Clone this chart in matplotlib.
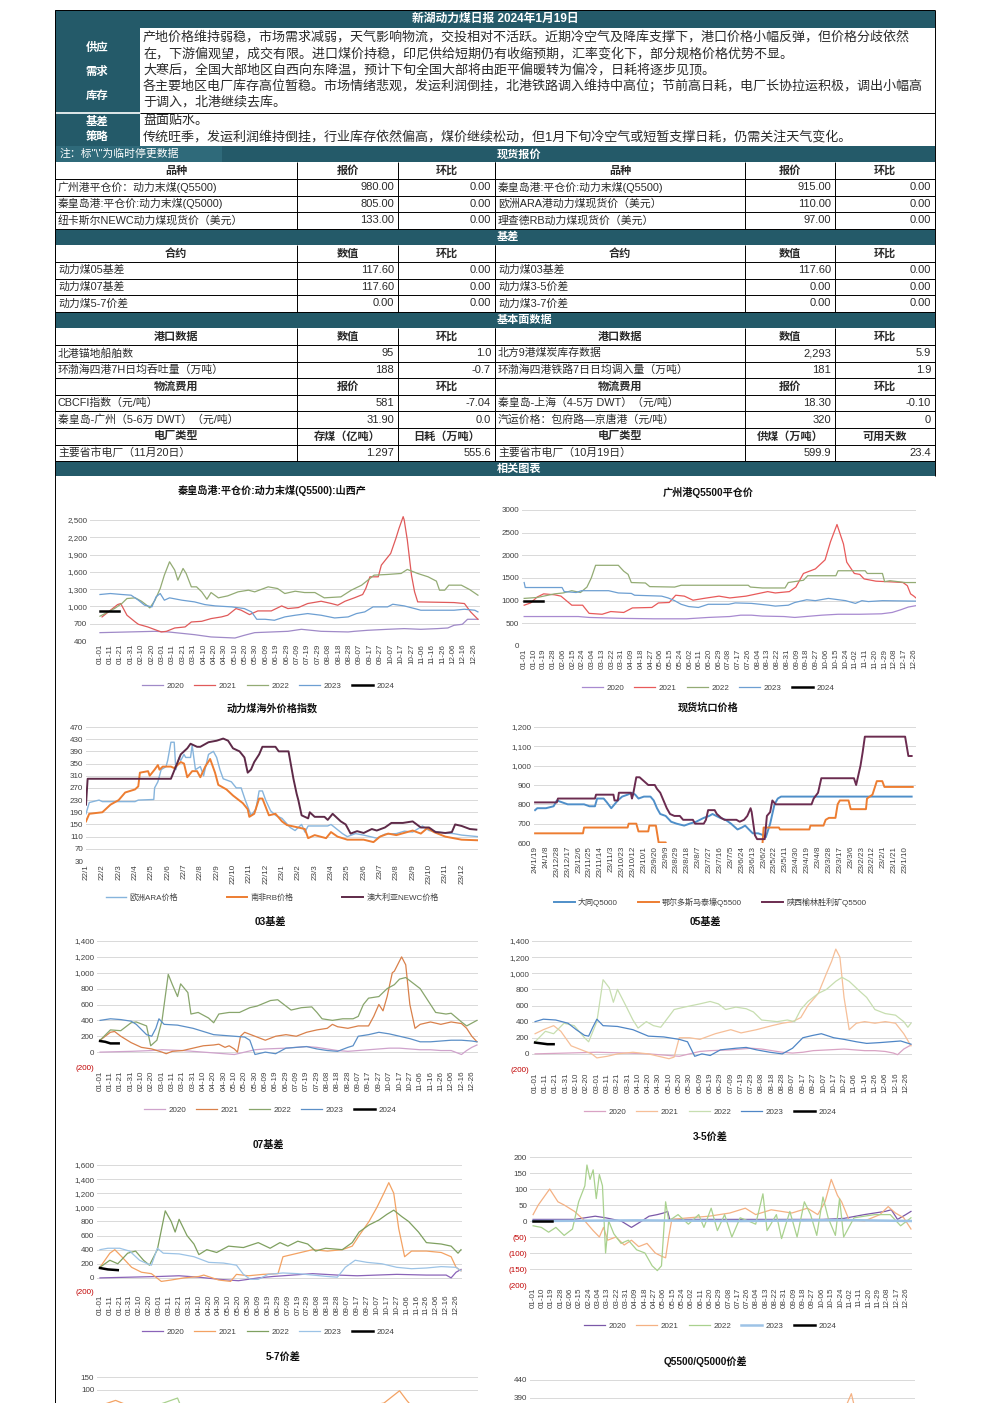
import matplotlib
matplotlib.use('Agg')
import matplotlib.pyplot as plt
import pandas as pd
from matplotlib.patches import Rectangle

plt.rcParams['font.family'] = ['Liberation Sans', 'Noto Sans CJK SC']
plt.rcParams['axes.unicode_minus'] = False

# ======================================================= #
# 文字部分
report_title = '新湖动力煤日报 2024年1月19日'
view_labels = ['供应', '需求', '库存']
view_lines = [
    '产地价格维持弱稳，市场需求减弱，天气影响物流，交投相对不活跃。近期冷空气及降库支撑下，港口价格小幅反弹，但价格分歧依然',
    '在，下游偏观望，成交有限。进口煤价持稳，印尼供给短期仍有收缩预期，汇率变化下，部分规格价格优势不显。',
    '大寒后，全国大部地区自西向东降温，预计下旬全国大部将由距平偏暖转为偏冷，日耗将逐步见顶。',
    '各主要地区电厂库存高位暂稳。市场情绪悲观，发运利润倒挂，北港铁路调入维持中高位；节前高日耗，电厂长协拉运积极，调出小幅高',
    '于调入，北港继续去库。',
]
basis_labels = ['基差', '策略']
basis_lines = [
    '盘面贴水。',
    '传统旺季，发运利润维持倒挂，行业库存依然偏高，煤价继续松动，但1月下旬冷空气或短暂支撑日耗，仍需关注天气变化。',
]
note_text = '注：标"\\"为临时停更数据'

# 现货报价
spot_head = ('品种', '报价', '环比')
spot_left = [('广州港平仓价：动力末煤(Q5500)', '980.00', '0.00'),
             ('秦皇岛港:平仓价:动力末煤(Q5000)', '805.00', '0.00'),
             ('纽卡斯尔NEWC动力煤现货价（美元）', '133.00', '0.00')]
spot_right = [('秦皇岛港:平仓价:动力末煤(Q5500)', '915.00', '0.00'),
              ('欧洲ARA港动力煤现货价（美元）', '110.00', '0.00'),
              ('理查德RB动力煤现货价（美元）', '97.00', '0.00')]
# 基差
basis_head = ('合约', '数值', '环比')
basis_left = [('动力煤05基差', '117.60', '0.00'),
              ('动力煤07基差', '117.60', '0.00'),
              ('动力煤5-7价差', '0.00', '0.00')]
basis_right = [('动力煤03基差', '117.60', '0.00'),
               ('动力煤3-5价差', '0.00', '0.00'),
               ('动力煤3-7价差', '0.00', '0.00')]
# 基本面数据
port_head = ('港口数据', '数值', '环比')
port_left = [('北港锚地船舶数', '95', '1.0'),
             ('环渤海四港7H日均吞吐量（万吨）', '188', '-0.7')]
port_right = [('北方9港煤炭库存数据', '2,293', '5.9'),
              ('环渤海四港铁路7日日均调入量（万吨）', '181', '1.9')]
freight_head = ('物流费用', '报价', '环比')
freight_left = [('CBCFI指数（元/吨）', '581', '-7.04'),
                ('秦皇岛-广州（5-6万 DWT）（元/吨）', '31.90', '0.0')]
freight_right = [('秦皇岛-上海（4-5万 DWT）（元/吨）', '18.30', '-0.10'),
                 ('汽运价格：包府路—京唐港（元/吨）', '320', '0')]
plant_head_left = ('电厂类型', '存煤（亿吨）', '日耗（万吨）')
plant_head_right = ('电厂类型', '供煤（万吨）', '可用天数')
plant_left = [('主要省市电厂（11月20日）', '1.297', '555.6')]
plant_right = [('主要省市电厂（10月19日）', '599.9', '23.4')]

# ======================================================= #
# 图表数据 (天数, 数值) / (月份, 数值)
qhd_2020 = [(0, 545), (53, 568), (66, 557), (91, 510), (107, 470), (130, 452), (139, 499), (149, 545),
            (181, 568), (194, 603), (213, 568), (239, 557), (245, 568), (258, 586), (277, 603), (293, 615),
            (309, 603), (325, 615), (335, 626), (341, 673), (349, 690), (354, 777), (364, 777)]
qhd_2021 = [(2, 818), (17, 1032), (20, 1050), (26, 847), (34, 730), (37, 690), (46, 644), (53, 597),
            (59, 557), (64, 568), (72, 626), (82, 644), (88, 730), (98, 742), (107, 789), (117, 818),
            (123, 847), (131, 963), (136, 934), (144, 858), (152, 922), (165, 922), (175, 1009), (181, 963),
            (191, 980), (200, 1050), (213, 1090), (223, 1050), (229, 1021), (236, 1090), (245, 1149),
            (253, 1207), (256, 1311), (260, 1514), (268, 1514), (271, 1717), (280, 1920), (285, 2181),
            (288, 2355), (292, 2558), (293, 2500), (296, 2152), (300, 1543), (303, 1253), (306, 1079),
            (341, 1067), (351, 1050), (357, 905), (364, 777)]
qhd_2022 = [(0, 830), (14, 963), (21, 1050), (26, 1137), (34, 1149), (40, 1090), (45, 1021), (48, 974),
            (53, 1108), (58, 1311), (62, 1543), (67, 1775), (72, 1630), (75, 1456), (80, 1659), (83, 1572),
            (88, 1340), (93, 1340), (98, 1253), (103, 1125), (107, 1241), (114, 1149), (123, 1183),
            (133, 1253), (143, 1282), (149, 1253), (162, 1340), (171, 1311), (178, 1224), (188, 1264),
            (197, 1241), (207, 1241), (216, 1149), (232, 1166), (242, 1282), (252, 1369), (260, 1485),
            (264, 1543), (277, 1555), (290, 1572), (296, 1642), (306, 1572), (316, 1514), (324, 1439),
            (327, 1282), (332, 1282), (336, 1369), (348, 1369), (356, 1293), (364, 1195)]
qhd_2023 = [(0, 1207), (10, 1224), (21, 1207), (30, 1195), (37, 1108), (43, 1021), (50, 992), (54, 1166),
            (58, 1224), (62, 1108), (67, 1149), (79, 1108), (91, 1079), (101, 1032), (111, 1009), (127, 992),
            (139, 963), (146, 905), (151, 777), (159, 777), (168, 760), (178, 818), (188, 847), (200, 876),
            (213, 847), (226, 800), (239, 818), (247, 876), (255, 905), (263, 992), (277, 992), (282, 1038),
            (293, 1009), (303, 963), (309, 934), (325, 934), (341, 934), (351, 951), (361, 934), (364, 905)]
qhd_2024 = [(0, 916), (18, 916)]

gz_2020 = [(0, 650), (50, 650), (60, 630), (90, 610), (120, 600), (150, 600), (170, 630), (190, 650),
           (200, 680), (210, 680), (220, 660), (240, 650), (250, 630), (260, 650), (275, 680), (290, 700),
           (310, 700), (330, 710), (340, 740), (348, 800), (355, 860), (362, 890)]
gz_2021 = [(0, 900), (6, 950), (12, 1080), (18, 1150), (28, 1130), (34, 1100), (40, 980), (44, 900),
           (54, 900), (60, 720), (72, 700), (80, 760), (92, 740), (100, 840), (118, 850), (124, 950),
           (134, 960), (140, 1120), (148, 1100), (156, 1010), (166, 1050), (180, 1100), (190, 1060),
           (205, 1100), (215, 1150), (225, 1200), (232, 1170), (245, 1200), (251, 1300), (258, 1600),
           (269, 1700), (278, 1900), (283, 2300), (289, 2680), (295, 2250), (298, 1850), (305, 1600),
           (310, 1580), (314, 1480), (325, 1430), (343, 1410), (350, 1400), (354, 1330), (357, 1150),
           (360, 1100), (362, 1060)]
gz_2022 = [(0, 1050), (12, 1070), (28, 1150), (36, 1170), (44, 1220), (52, 1180), (58, 1300), (62, 1500),
           (66, 1780), (87, 1780), (92, 1650), (96, 1580), (99, 1400), (112, 1390), (116, 1310), (139, 1300),
           (145, 1340), (207, 1340), (209, 1300), (220, 1280), (241, 1280), (244, 1400), (258, 1450),
           (262, 1550), (288, 1550), (290, 1660), (315, 1660), (317, 1600), (331, 1600), (333, 1420),
           (338, 1440), (352, 1400), (362, 1400)]
gz_2023 = [(0, 1400), (1, 1290), (35, 1290), (37, 1200), (48, 1180), (53, 1220), (78, 1220), (87, 1170),
           (99, 1160), (102, 1120), (127, 1100), (133, 1060), (139, 1000), (145, 920), (152, 870), (161, 850),
           (170, 920), (189, 920), (195, 950), (210, 940), (226, 900), (232, 880), (244, 900), (250, 960),
           (261, 1020), (269, 1000), (281, 1050), (297, 1000), (306, 940), (312, 1000), (318, 980),
           (331, 1000), (362, 990)]
gz_2024 = [(0, 990), (17, 990)]

ovs_ara = [(0, 185), (0.2, 222), (0.8, 230), (1.0, 225), (3.0, 225), (3.2, 230), (4.15, 232), (4.2, 270),
           (4.4, 290), (4.6, 330), (4.9, 340), (5.0, 360), (5.2, 420), (5.4, 420), (5.5, 330), (5.7, 370),
           (5.8, 360), (6.0, 380), (6.1, 370), (6.4, 370), (6.5, 410), (6.7, 330), (7.0, 340), (7.2, 310),
           (7.5, 380), (7.8, 390), (8.0, 370), (8.2, 330), (8.4, 300), (8.9, 290), (9.2, 270), (9.5, 270),
           (9.75, 230), (10.0, 195), (10.1, 180), (10.4, 200), (10.6, 260), (10.8, 260), (11.0, 230),
           (11.3, 195), (11.6, 180), (12.0, 170), (12.5, 140), (12.8, 130), (13.2, 150), (13.4, 125),
           (13.6, 145), (14.8, 145), (15.0, 150), (15.7, 120), (16.0, 110), (16.5, 120), (17.0, 115),
           (17.8, 105), (18.3, 118), (19.0, 120), (19.5, 128), (20.0, 125), (20.6, 145), (21.0, 130),
           (22.0, 122), (22.5, 120), (23.0, 115), (24.0, 110)]
ovs_rb = [(0, 160), (0.2, 185), (1.0, 190), (1.5, 215), (2.0, 230), (2.4, 255), (3.0, 265), (3.2, 275),
          (3.3, 320), (3.8, 325), (3.9, 310), (4.2, 330), (4.4, 345), (4.5, 330), (4.7, 340), (5.2, 340),
          (5.4, 335), (5.8, 355), (6.0, 350), (6.2, 305), (6.5, 325), (6.8, 325), (7.0, 305), (7.3, 340),
          (7.6, 365), (7.9, 320), (8.1, 280), (8.6, 265), (9.0, 245), (9.6, 220), (9.9, 200), (10.0, 175),
          (10.3, 185), (10.6, 235), (10.8, 235), (11.2, 180), (11.6, 185), (12.0, 160), (12.3, 148),
          (13.0, 140), (13.4, 135), (13.6, 105), (14.0, 115), (14.7, 105), (15.0, 125), (15.4, 110),
          (16.0, 100), (17.0, 100), (17.6, 92), (18.0, 110), (18.5, 120), (19.0, 115), (20.0, 130),
          (20.5, 120), (20.9, 138), (21.3, 125), (22.0, 110), (23.0, 100), (24.0, 98)]
ovs_newc = [(0, 215), (0.1, 300), (5.2, 300), (5.5, 340), (5.8, 380), (6.2, 400), (6.4, 415), (6.8, 405),
            (7.0, 405), (7.5, 420), (8.0, 425), (8.4, 432), (8.7, 425), (9.0, 400), (9.4, 390), (9.7, 370),
            (9.9, 320), (10.1, 330), (10.3, 355), (10.6, 380), (10.8, 405), (11.6, 405), (11.8, 390),
            (12.4, 390), (12.7, 300), (12.9, 250), (13.0, 230), (13.2, 180), (13.6, 170), (13.7, 190),
            (14.0, 175), (14.6, 175), (14.8, 165), (15.1, 185), (15.6, 160), (15.9, 150), (16.2, 120),
            (16.6, 128), (17.0, 122), (17.5, 135), (17.8, 130), (18.3, 140), (18.7, 155), (19.4, 155),
            (20.0, 160), (20.5, 140), (21.0, 140), (21.4, 125), (22.0, 122), (22.4, 125), (22.6, 150),
            (23.0, 145), (23.5, 135), (23.9, 133)]

pit_labels = ['24/1/19', '24/1/8', '23/12/28', '23/12/17', '23/12/6', '23/11/25', '23/11/14', '23/11/3',
              '23/10/23', '23/10/12', '23/10/1', '23/9/20', '23/9/9', '23/8/29', '23/8/18', '23/8/7',
              '23/7/27', '23/7/16', '23/7/5', '23/6/24', '23/6/13', '23/6/2', '23/5/22', '23/5/11',
              '23/4/30', '23/4/19', '23/4/8', '23/3/28', '23/3/17', '23/3/6', '23/2/23', '23/2/12',
              '23/2/1', '23/1/21', '23/1/10']
pit_datong = [(0, 770), (0.2, 780), (1.0, 780), (1.7, 790), (2.0, 820), (2.5, 810), (3.0, 800), (4.5, 800),
              (5.0, 790), (5.5, 790), (5.7, 830), (6.3, 830), (6.6, 810), (7.0, 780), (7.3, 800), (7.6, 820),
              (8.0, 840), (8.5, 850), (8.9, 860), (9.2, 850), (9.5, 830), (10.0, 840), (10.6, 840),
              (10.9, 820), (11.2, 780), (11.5, 750), (12.0, 740), (12.5, 710), (13.0, 700), (13.7, 690),
              (14.2, 700), (14.8, 710), (15.5, 730), (16.0, 740), (16.3, 750), (17.0, 730), (17.5, 720),
              (18.0, 700), (18.6, 670), (19.0, 680), (19.3, 690), (20.0, 650), (20.5, 650), (21.0, 640),
              (21.2, 630), (21.6, 700), (22.0, 800), (22.3, 830), (22.6, 840), (34.6, 840)]
pit_ordos = [(0, 650), (4.4, 650), (4.5, 680), (8.5, 680), (8.6, 700), (9.3, 700), (9.5, 660), (10.4, 660),
             (10.5, 690), (11.1, 690), (11.35, 603), (12.0, 603), (12.1, 560), (20.8, 560), (20.9, 600),
             (21.0, 680), (22.4, 680), (22.5, 670), (25.2, 670), (25.3, 690), (26.5, 690), (26.7, 720),
             (27.0, 730), (27.6, 730), (27.8, 800), (28.0, 820), (28.8, 820), (29.0, 775), (30.4, 775),
             (30.5, 830), (31.0, 850), (31.4, 920), (31.9, 920), (32.1, 890), (34.7, 890)]
pit_yulin = [(0, 810), (2.0, 810), (2.1, 830), (5.5, 830), (5.6, 850), (7.2, 850), (7.3, 820), (7.6, 820),
             (7.7, 860), (8.8, 860), (8.9, 830), (9.0, 850), (9.3, 940), (9.6, 940), (10.0, 920), (10.4, 900),
             (11.0, 900), (11.2, 880), (11.5, 860), (11.8, 820), (12.1, 780), (12.4, 750), (12.8, 740),
             (13.3, 740), (13.6, 720), (14.5, 720), (14.7, 700), (15.5, 700), (15.7, 720), (15.9, 770),
             (16.5, 770), (16.7, 750), (17.1, 730), (17.4, 720), (18.5, 720), (18.8, 710), (19.2, 720),
             (19.5, 740), (19.8, 780), (19.9, 760), (20.2, 640), (20.4, 620), (21.1, 620), (21.3, 740),
             (21.6, 760), (21.8, 820), (22.1, 800), (25.4, 800), (25.6, 830), (26.0, 860), (26.3, 935),
             (29.3, 935), (29.5, 900), (29.9, 1000), (30.1, 1070), (30.3, 1150), (34.0, 1150), (34.3, 1050),
             (34.6, 1050)]

b03_2020 = [(0, 0), (30, 10), (50, 20), (60, 30), (80, 20), (100, 0), (120, -20), (130, -30), (140, 0),
            (150, 30), (160, 40), (180, 50), (190, 60), (200, 70), (210, 60), (220, 40), (230, 20), (240, 10),
            (250, 20), (260, 30), (270, 40), (280, 50), (290, 50), (300, 40), (310, 30), (320, 30), (330, 20),
            (340, 20), (350, -30), (355, 20), (360, 60), (365, 90)]
b03_2021 = [(0, 150), (10, 250), (14, 260), (20, 200), (30, 120), (40, 60), (50, 40), (60, 0), (64, -20),
            (70, 10), (80, 20), (90, 50), (100, 80), (110, 90), (115, 100), (121, 60), (125, 80), (130, 40),
            (133, 0), (136, 200), (140, 250), (150, 200), (160, 150), (170, 200), (180, 220), (190, 200),
            (200, 250), (210, 280), (220, 300), (225, 350), (230, 320), (240, 300), (250, 330), (260, 330),
            (265, 450), (270, 600), (274, 520), (278, 700), (283, 1000), (285, 1020), (292, 1200),
            (296, 1100), (300, 600), (305, 300), (310, 350), (320, 380), (330, 350), (340, 380), (350, 360),
            (355, 300), (360, 200), (365, 130)]
b03_2022 = [(0, 150), (10, 280), (20, 270), (30, 370), (35, 380), (45, 330), (49, 80), (55, 150), (60, 400),
            (66, 980), (70, 850), (75, 700), (78, 860), (85, 750), (88, 480), (95, 500), (105, 430), (110, 370),
            (115, 480), (125, 500), (135, 500), (145, 560), (152, 580), (165, 650), (172, 660), (178, 600),
            (185, 530), (195, 560), (205, 570), (210, 500), (215, 420), (225, 400), (235, 420), (245, 420),
            (250, 450), (255, 600), (260, 680), (270, 700), (278, 800), (285, 850), (290, 920), (296, 940),
            (305, 850), (310, 800), (315, 700), (320, 600), (325, 500), (335, 480), (340, 490), (350, 380),
            (355, 330), (365, 400)]
b03_2023 = [(0, 400), (10, 420), (20, 410), (30, 390), (35, 350), (45, 220), (50, 200), (54, 300), (57, 420),
            (62, 350), (75, 340), (90, 300), (100, 260), (110, 220), (120, 210), (130, 200), (140, 190),
            (145, 150), (150, -30), (160, 0), (170, -20), (180, 50), (190, 60), (200, 70), (210, 40),
            (220, 20), (230, 10), (240, 60), (245, 80), (250, 200), (260, 220), (270, 250), (280, 230),
            (290, 200), (300, 170), (310, 130), (320, 130), (330, 140), (340, 150), (350, 150), (360, 140),
            (365, 130)]
b03_2024 = [(0, 140), (5, 130), (10, 110), (18, 110)]

b05_2020 = [(0, 0), (30, 10), (60, 20), (90, 10), (110, 0), (130, -20), (140, -30), (150, 0), (160, 30),
            (170, 40), (190, 50), (200, 60), (210, 70), (220, 60), (230, 40), (240, 20), (250, 10), (260, 20),
            (270, 40), (285, 50), (300, 60), (310, 50), (320, 40), (330, 40), (340, 30), (348, 10),
            (352, -10), (358, 60), (365, 110)]
b05_2021 = [(0, 250), (8, 300), (18, 350), (25, 280), (35, 100), (45, 50), (55, 0), (60, -50), (70, -30),
            (80, 0), (95, 20), (110, 0), (120, -30), (130, -60), (135, -40), (140, 200), (150, 200), (160, 180),
            (175, 250), (190, 300), (200, 260), (215, 300), (230, 350), (240, 380), (250, 400), (258, 450),
            (265, 600), (275, 750), (283, 1000), (288, 1150), (292, 1300), (296, 1200), (300, 700),
            (305, 300), (312, 380), (320, 400), (330, 380), (340, 400), (350, 380), (358, 250), (365, 100)]
b05_2022 = [(0, 150), (10, 280), (18, 250), (28, 380), (38, 350), (48, 200), (52, 150), (60, 400),
            (66, 920), (72, 820), (76, 640), (80, 800), (88, 600), (95, 420), (100, 320), (108, 400),
            (115, 350), (122, 330), (135, 550), (145, 580), (160, 620), (170, 650), (178, 620), (185, 550),
            (195, 580), (205, 560), (212, 520), (220, 420), (235, 400), (245, 420), (252, 400), (258, 550),
            (265, 650), (275, 750), (283, 800), (292, 900), (298, 950), (305, 900), (315, 780), (322, 700),
            (330, 550), (340, 500), (350, 480), (358, 400), (362, 330), (365, 380)]
b05_2023 = [(0, 400), (8, 430), (20, 420), (32, 380), (40, 300), (48, 230), (52, 220), (56, 330), (60, 430),
            (66, 350), (80, 340), (95, 300), (110, 220), (125, 210), (140, 180), (148, 150), (155, -30),
            (162, 0), (170, -20), (180, 50), (195, 70), (205, 80), (215, 50), (228, 20), (240, 0), (250, 70),
            (260, 200), (270, 230), (278, 250), (290, 200), (300, 180), (312, 150), (322, 130), (335, 140),
            (345, 150), (355, 160), (365, 120)]
b05_2024 = [(0, 140), (6, 130), (12, 120), (18, 120)]

b07_2020 = [(0, 0), (30, 10), (60, 20), (80, 30), (100, 10), (120, -20), (140, -40), (160, 0), (175, 20),
            (195, 40), (215, 60), (240, 40), (260, 30), (280, 40), (300, 50), (330, 40), (350, 40), (355, 0),
            (360, 80), (365, 120)]
b07_2021 = [(0, 150), (10, 350), (15, 400), (22, 300), (32, 150), (42, 80), (52, 60), (62, -50), (72, -30),
            (85, 0), (100, 20), (105, 40), (120, -30), (132, -50), (138, 50), (150, 30), (165, 50), (180, 60),
            (185, 300), (200, 350), (215, 400), (230, 380), (245, 400), (255, 450), (262, 600), (272, 800),
            (280, 1000), (287, 1200), (292, 1350), (297, 1200), (302, 700), (308, 300), (315, 380),
            (330, 380), (345, 360), (355, 300), (360, 150), (365, 100)]
b07_2022 = [(0, 150), (10, 250), (18, 200), (28, 350), (36, 380), (44, 250), (50, 180), (58, 400),
            (66, 950), (72, 800), (76, 650), (80, 830), (88, 600), (95, 480), (100, 330), (108, 400),
            (118, 360), (130, 450), (145, 430), (160, 500), (172, 420), (182, 500), (190, 450), (200, 520),
            (210, 480), (218, 380), (228, 420), (245, 400), (255, 500), (262, 650), (272, 750), (282, 820),
            (290, 900), (297, 960), (305, 870), (312, 800), (322, 650), (330, 500), (345, 480), (355, 450),
            (362, 350), (365, 400)]
b07_2023 = [(0, 400), (8, 420), (20, 420), (30, 380), (40, 250), (48, 200), (52, 180), (58, 420), (64, 350),
            (80, 340), (95, 300), (110, 220), (125, 210), (138, 180), (145, 50), (152, -20), (160, -20),
            (170, 50), (185, 70), (200, 60), (215, 40), (230, 20), (240, 10), (248, 150), (258, 250),
            (270, 220), (285, 200), (300, 150), (315, 130), (330, 140), (345, 160), (360, 150), (365, 100)]
b07_2024 = [(0, 140), (8, 120), (18, 110)]

s35_2020 = [(0, 5), (40, 5), (60, 15), (70, 10), (85, 0), (95, -20), (105, 0), (112, 15), (120, 20),
            (126, 25), (130, 30), (132, 5), (200, 5), (280, 5), (300, 8), (320, 20), (340, 30), (346, 35),
            (352, 5), (360, 20), (365, 30)]
s35_2021 = [(0, 20), (5, 50), (16, 100), (24, 60), (30, 50), (40, 30), (50, 0), (58, -30), (64, -50),
            (68, -20), (72, -60), (80, -50), (88, -75), (95, -60), (102, -80), (110, -70), (118, -100),
            (124, -110), (128, -115), (131, -50), (134, 5), (150, 10), (170, 15), (190, 25), (205, 40),
            (215, 20), (230, 35), (250, 25), (265, 40), (275, 20), (282, 60), (288, 130), (294, 80),
            (298, 60), (305, 5), (320, 0), (335, 20), (343, 45), (350, 25), (358, 10), (365, -25)]
s35_2022 = [(0, -15), (8, -20), (15, -35), (22, -20), (30, -45), (38, -25), (44, 60), (50, 110), (52, 175),
            (55, 130), (58, 160), (61, 70), (64, 145), (67, 110), (70, -100), (73, 0), (78, -40), (85, -70),
            (92, -60), (100, -90), (108, -100), (115, -140), (120, -155), (124, -140), (128, 60), (131, 0),
            (140, 20), (150, -10), (160, 20), (165, -20), (172, 40), (178, -30), (185, 20), (192, -50),
            (200, 10), (208, 0), (215, -10), (222, 85), (226, -30), (235, 20), (240, -55), (248, 30),
            (255, -50), (262, 60), (268, 20), (274, -45), (280, 75), (285, 10), (292, -45), (296, 70),
            (300, -50), (310, 10), (330, 20), (345, 20), (355, -15), (365, 10)]
s35_2023 = [(0, 0), (100, 2), (200, 0), (300, 3), (365, 0)]
s35_2024 = [(0, 0), (18, 0)]

s57_2020 = [(0, 0), (60, 5), (100, -10), (140, 0), (200, 10), (280, 5), (340, 10), (365, 0)]
s57_2021 = [(0, 40), (15, 60), (40, 20), (70, -20), (110, -40), (140, 20), (200, 20), (250, 30), (275, 50),
            (290, 97), (297, 60), (310, 0), (340, 10), (365, -10)]
s57_2022 = [(0, -10), (40, 20), (75, 69), (80, 20), (90, -40), (120, -60), (140, 20), (200, 0), (260, 40),
            (300, 0), (340, 20), (365, 10)]
s57_2023 = [(0, 0), (365, 0)]

q55_2021 = [(0, 200), (60, 220), (120, 180), (200, 230), (260, 250), (290, 300), (305, 402), (315, 280),
            (365, 220)]
q55_2022 = [(0, 150), (80, 200), (160, 170), (240, 190), (320, 160), (365, 150)]
q55_2023 = [(0, 120), (100, 140), (200, 120), (300, 130), (365, 120)]

season_ticks10 = list(range(0, 361, 10))
season_labels10 = list(pd.date_range('2020-01-01', periods=37, freq='10D').strftime('%m-%d'))
season_ticks9 = list(range(0, 361, 9))
season_labels9 = list(pd.date_range('2020-01-01', periods=41, freq='9D').strftime('%m-%d'))
month_labels = [f'{y}/{m}' for y in (22, 23) for m in range(1, 13)]

# ======================================================= #
W, H = 992, 1403
fig = plt.figure(figsize=(W / 100, H / 100), dpi=100)
bg = fig.add_axes([0, 0, 1, 1])
bg.set_xlim(0, W)
bg.set_ylim(H, 0)
bg.axis('off')

TEAL = '#245a69'
INK = '#2a2a2a'


def box(y0, y1, x0=55, x1=935, color=TEAL):
    bg.add_patch(Rectangle((x0, y0), x1 - x0, y1 - y0, color=color, lw=0))


def txt(x, y, s, ha='left', color=INK, size=7.8, weight='normal'):
    bg.text(x, y, s, ha=ha, va='center', color=color, fontsize=size, fontweight=weight)


def hline(y, x0, x1, color='black', lw=0.7):
    bg.plot([x0, x1], [y, y], color=color, lw=lw, solid_capstyle='butt')


def vline(x, y0, y1, color='black', lw=0.7):
    bg.plot([x, x], [y0, y1], color=color, lw=lw, solid_capstyle='butt')


# 标题和观点
box(10, 28)
txt(495, 19, report_title, ha='center', color='white', size=8.5, weight='bold')
box(28, 146, 55, 140)
hline(112.5, 55, 140, color='white', lw=1.2)
hline(112.5, 140, 935)
for s, y in zip(view_labels, [47, 71, 96]):
    txt(97, y, s, ha='center', color='white', size=8.2, weight='bold')
for s, y in zip(basis_labels, [121, 137]):
    txt(97, y, s, ha='center', color='white', size=8.2, weight='bold')
for i, line in enumerate(view_lines):
    txt(143, 37.5 + i * 16.3, line, size=9.4)
for i, line in enumerate(basis_lines):
    txt(143, 121 + i * 16, line, size=9.4)

# 表格
L_COLS = (55, 297, 398, 495)
R_COLS = (495, 745, 835, 935)
ROW_H = 16.6


def table_row(y0, left, right, head=False):
    y1 = y0 + ROW_H
    ym = (y0 + y1) / 2
    for cols, cells in ((L_COLS, left), (R_COLS, right)):
        for j, s in enumerate(cells):
            a, b = cols[j], cols[j + 1]
            if head:
                txt((a + b) / 2, ym, s, ha='center', weight='bold', size=8)
            elif j == 0:
                txt(a + 3, ym, s, size=7.8)
            else:
                txt(b - 4, ym, s, ha='right', size=8)
    hline(y1, 55, 935)
    for x in L_COLS + R_COLS:
        vline(x, y0, y1)
    return y1


def section_bar(y0, y1, title):
    box(y0, y1)
    txt(497, (y0 + y1) / 2, title, color='white', weight='bold', size=8)


box(146, 162.3)
box(146, 162.3, 55, 222, color='#2f6a7a')
txt(60, 154, note_text, color='white', size=7.8)
txt(497, 154, '现货报价', color='white', weight='bold', size=8)

y = table_row(162.3, spot_head, spot_head, head=True)
for l, r in zip(spot_left, spot_right):
    y = table_row(y, l, r)
section_bar(y, y + ROW_H, '基差')
y = table_row(y + ROW_H, basis_head, basis_head, head=True)
for l, r in zip(basis_left, basis_right):
    y = table_row(y, l, r)
section_bar(y, y + ROW_H, '基本面数据')
y = table_row(y + ROW_H, port_head, port_head, head=True)
for l, r in zip(port_left, port_right):
    y = table_row(y, l, r)
y = table_row(y, freight_head, freight_head, head=True)
for l, r in zip(freight_left, freight_right):
    y = table_row(y, l, r)
y = table_row(y, plant_head_left, plant_head_right, head=True)
for l, r in zip(plant_left, plant_right):
    y = table_row(y, l, r)
section_bar(y, 475.5, '相关图表')
vline(55, 10, H)
vline(935, 10, 475.5)
hline(10, 55, 935)

# ======================================================= #
# 图表


def chart(x0, x1, v_lo, y_lo, v_hi, y_hi, ylim, xlim):
    ppu = (y_lo - y_hi) / (v_hi - v_lo)
    top = y_lo - (ylim[1] - v_lo) * ppu
    bot = y_lo + (v_lo - ylim[0]) * ppu
    ax = fig.add_axes([x0 / W, 1 - bot / H, (x1 - x0) / W, (bot - top) / H])
    ax.set_xlim(*xlim)
    ax.set_ylim(*ylim)
    ax.patch.set_alpha(0)
    for s in ax.spines.values():
        s.set_visible(False)
    ax.grid(axis='y', color='#d9d9d9', lw=0.7)
    ax.set_axisbelow(True)
    ax.tick_params(length=0, labelsize=5.8, colors='#404040', pad=2)
    return ax


def yaxis(ax, ticks, comma=True):
    labels = []
    for v in ticks:
        if v < 0:
            labels.append(f'({-v:,.0f})')
        elif comma:
            labels.append(f'{v:,.0f}')
        else:
            labels.append(f'{v:.0f}')
    ax.set_yticks(ticks, labels)
    for lab, v in zip(ax.get_yticklabels(), ticks):
        if v < 0:
            lab.set_color('#c00000')


def xaxis(ax, ticks, labels):
    ax.set_xticks(ticks, labels, rotation=90)


def draw(ax, pts, color, label=None, lw=0.9):
    xs = [p[0] for p in pts]
    ys = [p[1] for p in pts]
    ax.plot(xs, ys, color=color, lw=lw, label=label)


def title(cx, cy, s):
    fig.text(cx / W, 1 - cy / H, s, ha='center', va='center', fontsize=7.3, fontweight='bold', color='#111111')


def legend(ax, cx, cy, ncol=5, spacing=1.3):
    ax.legend(loc='center', bbox_to_anchor=(cx / W, 1 - cy / H), bbox_transform=fig.transFigure,
              ncol=ncol, frameon=False, fontsize=5.8, handlelength=2.6, columnspacing=spacing,
              handletextpad=0.4, labelcolor='#404040')


years = ['2020', '2021', '2022', '2023', '2024']

# 秦皇岛港
ax = chart(90, 480, 400, 641, 2500, 520, (400, 2620), (-9.6, 366))
for pts, c, lab in zip([qhd_2020, qhd_2021, qhd_2022, qhd_2023], ['#a08ac8', '#e05a5a', '#93ab74', '#6d9fd2'], years):
    draw(ax, pts, c, lab)
draw(ax, qhd_2024, 'black', '2024', lw=1.8)
yaxis(ax, list(range(400, 2501, 300)))
xaxis(ax, season_ticks10, season_labels10)
title(272, 490, '秦皇岛港:平仓价:动力末煤(Q5500):山西产')
legend(ax, 268, 686)

# 广州港
ax = chart(522, 916, 0, 646, 3000, 510, (0, 3000), (-2, 362))
for pts, c, lab in zip([gz_2020, gz_2021, gz_2022, gz_2023], ['#a88ad0', '#e85a5a', '#93ab74', '#6d9fd2'], years):
    draw(ax, pts, c, lab)
draw(ax, gz_2024, 'black', '2024', lw=1.8)
yaxis(ax, list(range(0, 3001, 500)), comma=False)
xaxis(ax, season_ticks9, season_labels9)
title(708, 492, '广州港Q5500平仓价')
legend(ax, 708, 688)

# 海外价格指数
ax = chart(86, 478, 30, 861, 470, 727, (30, 470), (0, 24))
draw(ax, ovs_ara, '#86b4dc', '欧洲ARA价格', lw=1.0)
draw(ax, ovs_rb, '#ed7d31', '南非RB价格', lw=1.4)
draw(ax, ovs_newc, '#5e2a48', '澳大利亚NEWC价格', lw=1.4)
yaxis(ax, list(range(30, 471, 40)), comma=False)
xaxis(ax, list(range(24)), month_labels)
title(272, 708, '动力煤海外价格指数')
legend(ax, 272, 898, ncol=3, spacing=6)

# 坑口价格
ax = chart(534, 916, 600, 843, 1200, 727, (600, 1200), (-0.1, 35))
draw(ax, pit_datong, '#4f8fc9', '大同Q5000', lw=1.4)
draw(ax, pit_ordos, '#ed7d31', '鄂尔多斯马泰壕Q5500', lw=1.4)
draw(ax, pit_yulin, '#6b2c50', '陕西榆林胜利矿Q5500', lw=1.4)
yaxis(ax, list(range(600, 1201, 100)))
xaxis(ax, list(range(len(pit_labels))), pit_labels)
title(708, 708, '现货坑口价格')
legend(ax, 710, 902, ncol=3, spacing=2.5)

# 03基差
ax = chart(97, 478, -200, 1068, 1400, 941, (-200, 1400), (-3, 366))
for pts, c, lab in zip([b03_2020, b03_2021, b03_2022, b03_2023], ['#cfa3cc', '#d9804a', '#88a56c', '#5b8fc7'], years):
    draw(ax, pts, c, lab)
draw(ax, b03_2024, 'black', '2024', lw=1.8)
yaxis(ax, list(range(-200, 1401, 200)))
xaxis(ax, season_ticks10, season_labels10)
title(270, 922, '03基差')
legend(ax, 270, 1110)

# 05基差
ax = chart(532, 912, -200, 1070, 1400, 941, (-200, 1400), (-3, 366))
for pts, c, lab in zip([b05_2020, b05_2021, b05_2022, b05_2023], ['#d9a3c4', '#f6bf98', '#c7deb0', '#4f86c6'], years):
    draw(ax, pts, c, lab)
draw(ax, b05_2024, 'black', '2024', lw=1.8)
yaxis(ax, list(range(-200, 1401, 200)))
xaxis(ax, season_ticks10, season_labels10)
title(705, 922, '05基差')
legend(ax, 710, 1112)

# 07基差
ax = chart(97, 462, -200, 1292, 1600, 1165, (-200, 1600), (-3, 366))
for pts, c, lab in zip([b07_2020, b07_2021, b07_2022, b07_2023], ['#8a63b8', '#f3a263', '#7fa060', '#9cc3e6'], years):
    draw(ax, pts, c, lab)
draw(ax, b07_2024, 'black', '2024', lw=1.8)
yaxis(ax, list(range(-200, 1601, 200)))
xaxis(ax, season_ticks10, season_labels10)
title(268, 1145, '07基差')
legend(ax, 268, 1332)

# 3-5价差
ax = chart(530, 912, -200, 1285, 200, 1157, (-200, 200), (-3, 366))
for pts, c, lab in zip([s35_2020, s35_2021, s35_2022], ['#7b58a8', '#f4b183', '#a9d18e'], years):
    draw(ax, pts, c, lab)
draw(ax, s35_2023, '#9dc3e6', '2023', lw=1.8)
draw(ax, s35_2024, 'black', '2024', lw=1.8)
yaxis(ax, list(range(-200, 201, 50)))
xaxis(ax, season_ticks9, season_labels9)
title(710, 1138, '3-5价差')
legend(ax, 710, 1326)

# 5-7价差 (页面底部截断, 只标出可见的刻度)
ax = chart(97, 478, 100, 1390, 150, 1377, (-200, 150), (-3, 366))
for pts, c in zip([s57_2020, s57_2021, s57_2022, s57_2023], ['#8a63b8', '#f3a263', '#a9d18e', '#9dc3e6']):
    draw(ax, pts, c)
yaxis(ax, [100, 150])
ax.set_xticks([])
title(283, 1358, '5-7价差')

# Q5500/Q5000价差
ax = chart(530, 915, 390, 1398, 440, 1380, (40, 440), (-3, 366))
for pts, c in zip([q55_2021, q55_2022, q55_2023], ['#f4b183', '#a9d18e', '#9dc3e6']):
    draw(ax, pts, c)
yaxis(ax, [390, 440], comma=False)
ax.set_xticks([])
title(705, 1362, 'Q5500/Q5000价差')

fig.savefig('out.png', dpi=100)
